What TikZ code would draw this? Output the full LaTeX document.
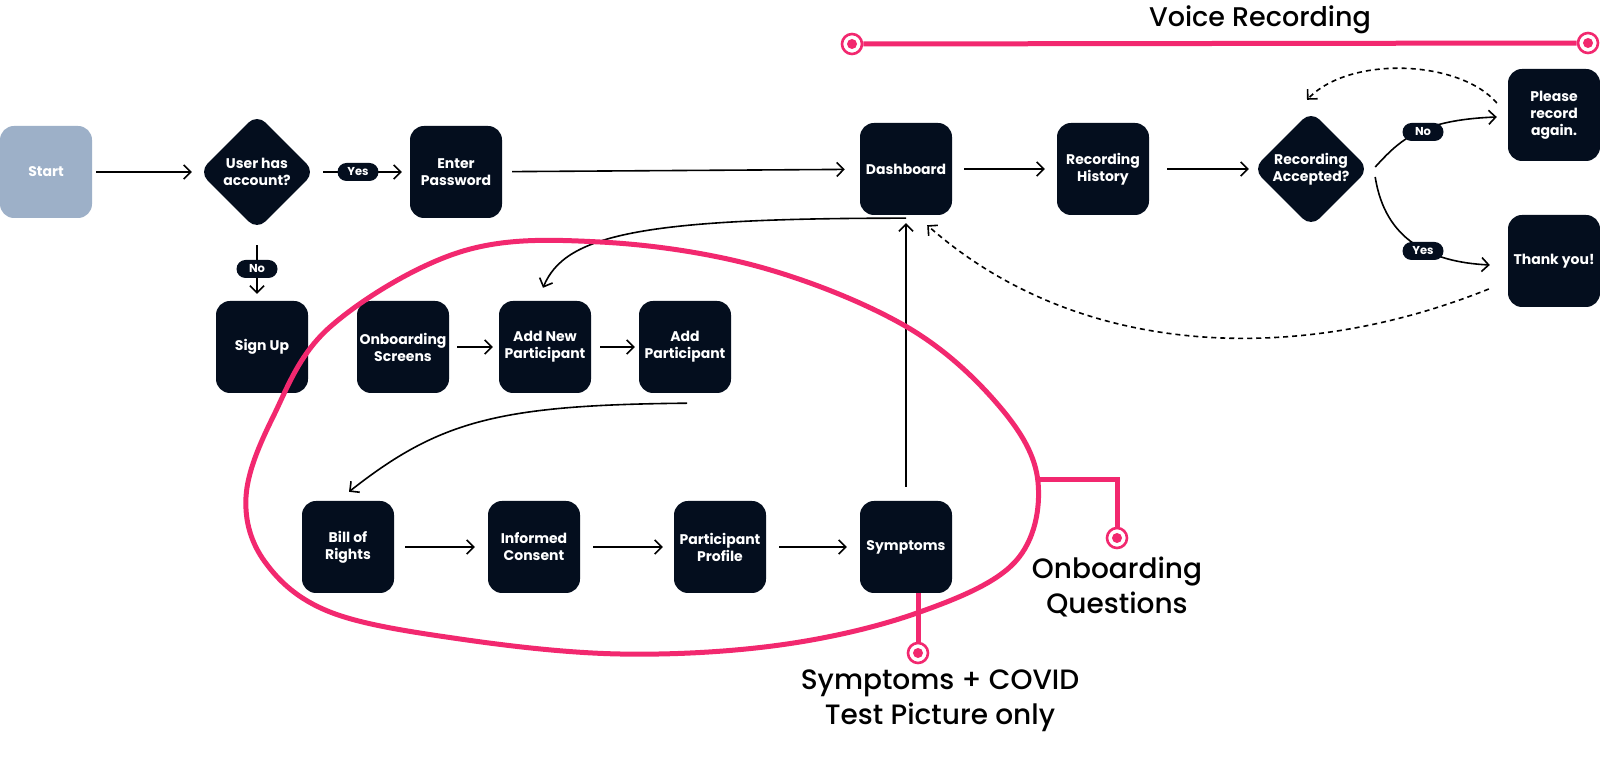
\documentclass[tikz,border=0pt]{standalone}
\usepackage{fontspec}
\setmainfont{Poppins}
\newfontfamily\notefont{Poppins}[UprightFont={* Medium}]
\usetikzlibrary{arrows.meta,shapes.geometric}
\begin{document}
\begin{tikzpicture}[x=1pt,y=1pt,
  box/.style={rectangle,rounded corners=14pt,fill=inkColor,text=white,minimum width=92pt,minimum height=92pt,inner sep=0pt,align=center,font=\fontsize{14}{17}\selectfont\bfseries},
  decision/.style={diamond,rounded corners=12pt,fill=inkColor,text=white,minimum width=116pt,minimum height=116pt,inner sep=0pt,align=center,font=\fontsize{14}{17}\selectfont\bfseries},
  tag/.style={rectangle,rounded corners=9pt,fill=inkColor,text=white,minimum width=41pt,minimum height=18pt,inner sep=0pt,font=\fontsize{11.5}{12}\selectfont\bfseries},
  flow/.style={draw=drawColor,line width=1.6pt,-{Straight Barb[length=7pt,width=14pt]}},
  back/.style={flow,dash pattern=on 5pt off 4pt},
  ring/.style={circle,draw=hotColor,fill=white,line width=2.6pt,minimum size=20pt,inner sep=0pt,path picture={\fill[hotColor] (path picture bounding box.center) circle (5pt);}},
  hot/.style={draw=hotColor,line width=5pt},
  note/.style={align=center,text=drawColor,font=\notefont\fontsize{28}{35}\selectfont}]
\definecolor{inkColor}{RGB}{4,14,30}
\definecolor{startColor}{RGB}{157,176,200}
\definecolor{hotColor}{RGB}{242,40,111}
\definecolor{drawColor}{RGB}{0,0,0}
\path[use as bounding box,fill=white] (0,0) rectangle (1600,757);

\node[box,fill=startColor] (start) at (46,585) {Start};
\node[decision] (acct) at (257,585) {User has\\account?};
\node[box] (pass) at (456,585) {Enter\\Password};
\node[box] (signup) at (262,410) {Sign Up};
\node[box] (onbscr) at (403,410) {Onboarding\\Screens};
\node[box] (addnew) at (545,410) {Add New\\Participant};
\node[box] (addpart) at (685,410) {Add\\Participant};
\node[box] (bill) at (348,210) {Bill of\\Rights};
\node[box] (consent) at (534,210) {Informed\\Consent};
\node[box] (profile) at (720,210) {Participant\\Profile};
\node[box] (sympt) at (906,210) {Symptoms};
\node[box] (dash) at (906,588) {Dashboard};
\node[box] (hist) at (1103,588) {Recording\\History};
\node[decision] (accept) at (1311,588) {Recording\\Accepted?};
\node[box] (again) at (1554,642) {Please\\record\\again.};
\node[box] (thanks) at (1554,496) {Thank you!};

\draw[flow,shorten <=4pt,shorten >=7pt] (start) -- (acct);
\draw[flow,shorten <=8pt,shorten >=8pt] (acct) -- (pass);
\draw[flow,shorten <=15pt,shorten >=7pt] (acct.south) -- (acct.south |- signup.north);
\draw[flow,shorten <=10pt,shorten >=15pt] (pass) -- (dash);
\draw[flow,shorten <=12pt,shorten >=12pt] (dash) -- (hist);
\draw[flow,shorten <=18pt,shorten >=4pt] (hist) -- (accept);
\draw[flow,shorten <=8pt,shorten >=6pt] (onbscr) -- (addnew);
\draw[flow,shorten <=9pt,shorten >=4pt] (addnew) -- (addpart);
\draw[flow,shorten <=11pt,shorten >=13pt] (bill) -- (consent);
\draw[flow,shorten <=13pt,shorten >=11pt] (consent) -- (profile);
\draw[flow,shorten <=13pt,shorten >=13pt] (profile) -- (sympt);
\draw[flow,shorten <=14pt,shorten >=8pt] (sympt.north) -- (dash.south);

\draw[flow] ([yshift=-3pt]dash.south) .. controls (640,539) and (565,522) .. ([shift={(-2,13)}]addnew.north);
\draw[flow] ([shift={(2,-10)}]addpart.south) .. controls (500,352) and (440,337) .. ([shift={(1,9)}]bill.north);
\draw[flow] ([shift={(6,2)}]accept.east) .. controls (1400,617) and (1420,637) .. ([shift={(-11,-2)}]again.west);
\draw[flow] ([shift={(6,-8)}]accept.east) .. controls (1385,517) and (1430,495) .. ([shift={(-18,-4)}]thanks.west);
\draw[back] ([shift={(-11,12)}]again.west) .. controls (1460,697) and (1350,702) .. ([shift={(-4,11)}]accept.north);
\draw[back] ([shift={(-19,-28)}]thanks.west) .. controls (1300,392) and (1080,397) .. ([shift={(-25,-10)}]dash.south east);

\node[tag] (yes1) at (358,585) {Yes};
\node[tag] (no1) at (257,488) {No};
\node[tag] (no2) at (1423,625) {No};
\node[tag] (yes2) at (1423,506) {Yes};

\draw[hot] plot[smooth cycle,tension=0.6] coordinates {(246,260) (273,340) (330,430) (460,505) (600,515) (760,490) (907,430) (1000,350) (1038,275) (1015,195) (917,144) (780,112) (620,103) (460,118) (330,145) (265,195)};

\coordinate (oqstart) at (1038,277);
\draw[hot] (oqstart) -| (1117,219);
\node[ring] (oq) at (1117,219) {};
\draw[hot] ([xshift=12pt]sympt.south) -- (918,104);
\node[ring] (sq) at (918,104) {};
\node[ring] (vrl) at (852,713) {};
\node[ring] (vrr) at (1588,714) {};
\draw[hot] (vrl) -- (vrr);

\node[note,anchor=base,font=\notefont\fontsize{27}{33}\selectfont] (vrtext) at (1260,730) {Voice Recording};
\node[note] (oqtext) at (1117,170) {Onboarding\\Questions};
\node[note] (sqtext) at (940,56) {Symptoms + COVID\\Test Picture only};
\end{tikzpicture}
\end{document}
